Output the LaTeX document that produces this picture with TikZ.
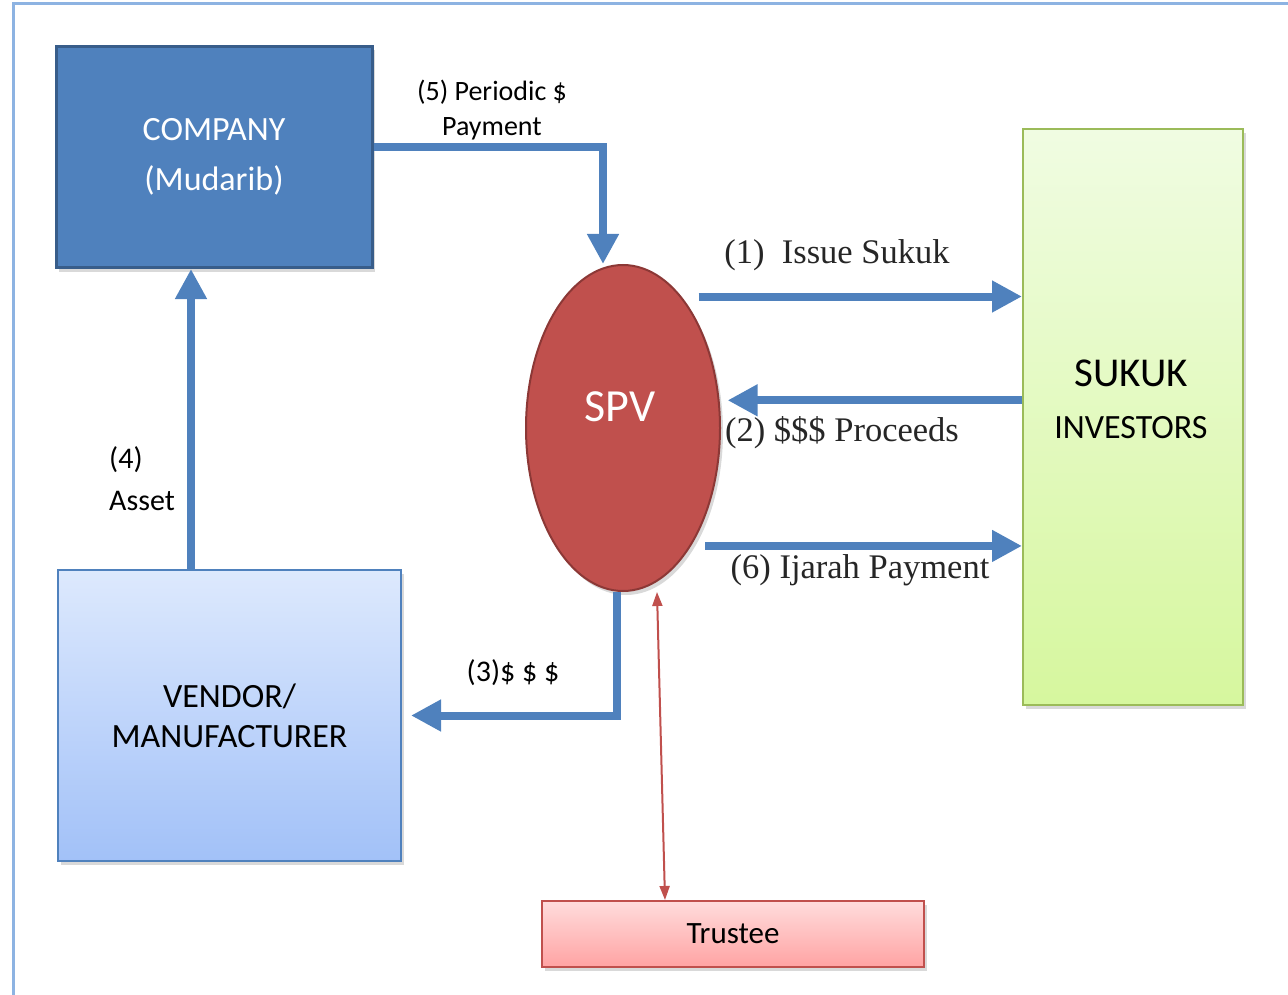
\documentclass[tikz,border=0pt]{standalone}
\usepackage{fontspec}
\setmainfont{Carlito}
\newfontfamily\serifface{Liberation Serif}
\usetikzlibrary{arrows.meta,shapes.geometric,shadows}

\definecolor{flowblue}{HTML}{4F81BD}
\definecolor{companyedge}{HTML}{385D8A}
\definecolor{spvfill}{HTML}{C0504D}
\definecolor{spvedge}{HTML}{8C3836}
\definecolor{invtop}{HTML}{F0FCE2}
\definecolor{invbot}{HTML}{D6F79E}
\definecolor{invedge}{HTML}{9BBB59}
\definecolor{vendtop}{HTML}{DDE9FD}
\definecolor{vendbot}{HTML}{A2C1F8}
\definecolor{vendedge}{HTML}{4F81BD}
\definecolor{trutop}{HTML}{FFDCDC}
\definecolor{trubot}{HTML}{FFA3A3}
\definecolor{truedge}{HTML}{C0504D}
\definecolor{framecol}{HTML}{8DB3E2}

\tikzset{
  boxshadow/.style={drop shadow={opacity=0.3,shadow xshift=3pt,shadow yshift=-4pt}},
  entity/.style={rectangle,inner sep=0pt,align=center,boxshadow},
  flow/.style={draw=flowblue,line width=8pt,
    -{Triangle[width=30pt,length=30pt]}},
  tie/.style={draw=spvfill,line width=2pt,
    {Triangle[width=10pt,length=14pt]}-{Triangle[width=10pt,length=14pt]}},
  sanslabel/.style={inner sep=0pt,align=center,text=black,
    font=\fontsize{28}{35}\selectfont},
  seriflabel/.style={inner sep=0pt,text=black!85,
    font=\serifface\fontsize{34.5}{38}\selectfont},
}

\begin{document}
\begin{tikzpicture}[x=1pt,y=-1pt]
\useasboundingbox (0,0) rectangle (1288,995);

% outer frame (top and left edges)
\draw[framecol,line width=3pt] (13,995) -- (13,4) -- (1288,4);

% parties
\node[entity,fill=flowblue,draw=companyedge,line width=3pt,
  minimum width=316pt,minimum height=221pt,text=white,
  font=\fontsize{34}{50}\selectfont] (company) at (214,157)
  {COMPANY\\(Mudarib)};

\node[ellipse,inner sep=0pt,fill=spvfill,draw=spvedge,line width=2pt,
  minimum width=194pt,minimum height=326pt,boxshadow] (spv) at (623,428) {};
\node[inner sep=0pt,text=white,font=\fontsize{46}{50}\selectfont] (spvtext)
  at (620,407) {SPV};

\node[entity,top color=invtop,bottom color=invbot,draw=invedge,line width=2pt,
  minimum width=220pt,minimum height=576pt] (investors) at (1133,417) {};
\node[inner sep=0pt,text=black,font=\fontsize{41}{44}\selectfont]
  (invtext1) at (1131,373) {SUKUK};
\node[inner sep=0pt,text=black,font=\fontsize{34}{38}\selectfont]
  (invtext2) at (1131,428) {INVESTORS};

\node[entity,top color=vendtop,bottom color=vendbot,draw=vendedge,line width=2pt,
  minimum width=343pt,minimum height=291pt,text=black,
  font=\fontsize{34}{40}\selectfont] (vendor) at (229.5,715.5)
  {VENDOR/\\MANUFACTURER};

\node[entity,top color=trutop,bottom color=trubot,draw=truedge,line width=2pt,
  minimum width=382pt,minimum height=66pt,text=black,
  font=\fontsize{31}{34}\selectfont] (trustee) at (733,934) {Trustee};

% flows
\draw[flow] ([yshift=10pt]company.east) -| ([xshift=-20pt]spv.north);
\draw[flow] ([xshift=17pt]spv.66.6) -- (investors.west |- spv.66.6);
\draw[flow] (investors.west |- spv.16.3) -- ([xshift=8pt]spv.16.3);
\draw[flow] ([xshift=14pt]spv.-60.4) -- (investors.west |- spv.-60.4);
\draw[flow] ([xshift=-6pt]spv.south) |- ([xshift=9pt]vendor.east);
\draw[flow] ([xshift=-38.5pt]vendor.north) -- ([xshift=-23pt]company.south);
\draw[tie] ([xshift=34pt]spv.south) -- ([xshift=-68pt]trustee.north);

% flow labels
\node[sanslabel] (lbl5) at (492,110) {(5) Periodic \$\\Payment};
\node[seriflabel] (lbl1) at (837,255) {(1)\ \ Issue Sukuk};
\node[seriflabel] (lbl2) at (842,433) {(2) \$\$\$ Proceeds};
\node[seriflabel] (lbl6) at (860,570) {(6) Ijarah Payment};
\node[sanslabel,font=\fontsize{30}{42}\selectfont,align=left,anchor=west]
  (lbl4) at (109,479) {(4)\\Asset};
\node[sanslabel,font=\fontsize{30}{32}\selectfont] (lbl3) at (513,673)
  {(3)\$ \$ \$};
\end{tikzpicture}
\end{document}
